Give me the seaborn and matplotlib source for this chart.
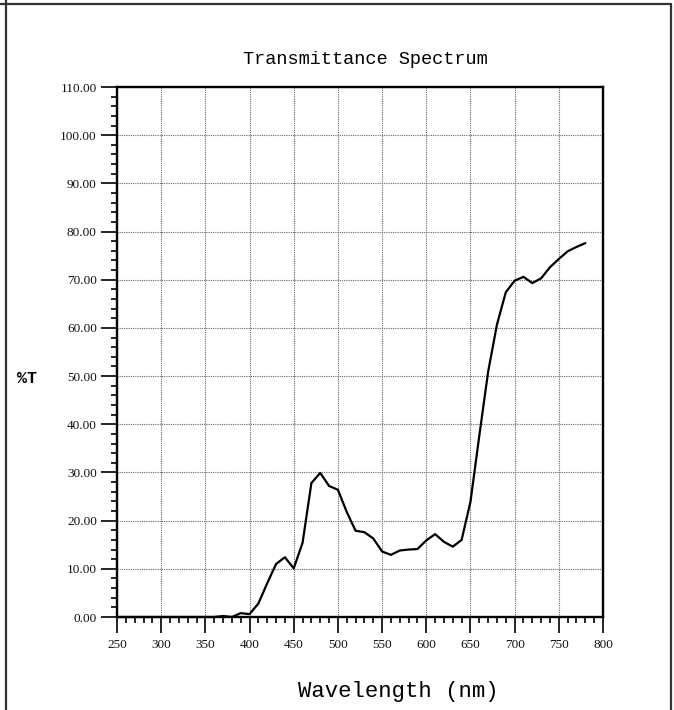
"""Transmittance spectrum chart (recreation)."""

import numpy as np
import pandas as pd
import matplotlib
matplotlib.use("Agg")
import matplotlib.pyplot as plt
from matplotlib.lines import Line2D
from matplotlib.ticker import MultipleLocator, FormatStrFormatter
import seaborn as sns

# wavelengths in nm, sampled every 10 nm
wavelength = list(range(250, 790, 10))
# %T
transmittance = [
    0.0, 0.0, 0.0, 0.0, 0.0, 0.0, 0.0, 0.0, 0.0, 0.0,   # 250-340
    0.0, 0.0, 0.2, 0.0, 0.8, 0.6, 2.8, 7.0, 11.0, 12.4,  # 350-440
    10.1, 15.4, 27.8, 29.9, 27.2, 26.4, 21.8, 17.9, 17.6, 16.3,  # 450-540
    13.6, 12.9, 13.8, 14.0, 14.1, 15.9, 17.2, 15.6, 14.6, 16.0,  # 550-640
    23.9, 37.6, 50.9, 60.7, 67.4, 69.8, 70.6, 69.3, 70.3, 72.6,  # 650-740
    74.3, 75.9, 76.8, 77.6,  # 750-780
]

x_ticks = list(range(250, 801, 50))
y_ticks = list(range(0, 111, 10))

TITLE = "Transmittance Spectrum"
X_LABEL = "Wavelength (nm)"
Y_LABEL = "%T"

sns.set_style("white")
plt.rcParams["font.family"] = ["Liberation Mono", "DejaVu Sans Mono"]

df = pd.DataFrame({"wl": wavelength, "T": transmittance})

fig = plt.figure(figsize=(6.74, 7.10), dpi=100)
ax = fig.add_axes([117 / 674, 1 - 617 / 710, 486 / 674, 530 / 710])

sns.lineplot(data=df, x="wl", y="T", ax=ax, color="black", linewidth=1.6,
             clip_on=False, zorder=5)

ax.set_xlim(250, 800)
ax.set_ylim(0, 110)
ax.set_xticks(x_ticks)
ax.set_yticks(y_ticks)
ax.xaxis.set_minor_locator(MultipleLocator(10))
ax.yaxis.set_minor_locator(MultipleLocator(2))
ax.yaxis.set_major_formatter(FormatStrFormatter("%.2f"))

# seaborn "white" style hides ticks; turn them back on
ax.tick_params(axis="both", which="both", bottom=True, left=True,
               top=False, right=False)
ax.tick_params(axis="both", which="major", direction="out", length=11.5,
               width=1.2, labelsize=9.5, color="black", labelcolor="#111111")
ax.tick_params(axis="y", which="major", pad=3)
ax.tick_params(axis="x", which="major", pad=4)
ax.tick_params(axis="both", which="minor", direction="out", length=4.5,
               width=1.2, color="black")
for lab in ax.get_xticklabels() + ax.get_yticklabels():
    lab.set_fontfamily(["Liberation Serif", "DejaVu Serif"])

ax.grid(True, which="major", color="#666666", linestyle=(0, (1, 1)),
        linewidth=0.8)
for s in ax.spines.values():
    s.set_visible(True)
    s.set_color("black")
    s.set_linewidth(1.7)

ax.set_xlabel("")
ax.set_ylabel("")

fig.text(365 / 674, 1 - 59 / 710, TITLE, ha="center", va="center",
         fontsize=13.4, color="black")
fig.text(398 / 674, 1 - 692 / 710, X_LABEL, ha="center", va="center",
         fontsize=16, color="black")
fig.text(27 / 674, 1 - 379 / 710, Y_LABEL, ha="center", va="center",
         fontsize=12, fontweight="bold", color="black")

# outer frame (top, left, right; open at the bottom)
frame_kw = dict(color="#333333", linewidth=1.6, transform=fig.transFigure)
fig.add_artist(Line2D([0, 671 / 674], [1 - 4 / 710] * 2, **frame_kw))
fig.add_artist(Line2D([6 / 674] * 2, [0, 1], **frame_kw))
fig.add_artist(Line2D([671 / 674] * 2, [0, 1 - 4 / 710], **frame_kw))

fig.savefig("out.png", dpi=100)
plt.close(fig)
